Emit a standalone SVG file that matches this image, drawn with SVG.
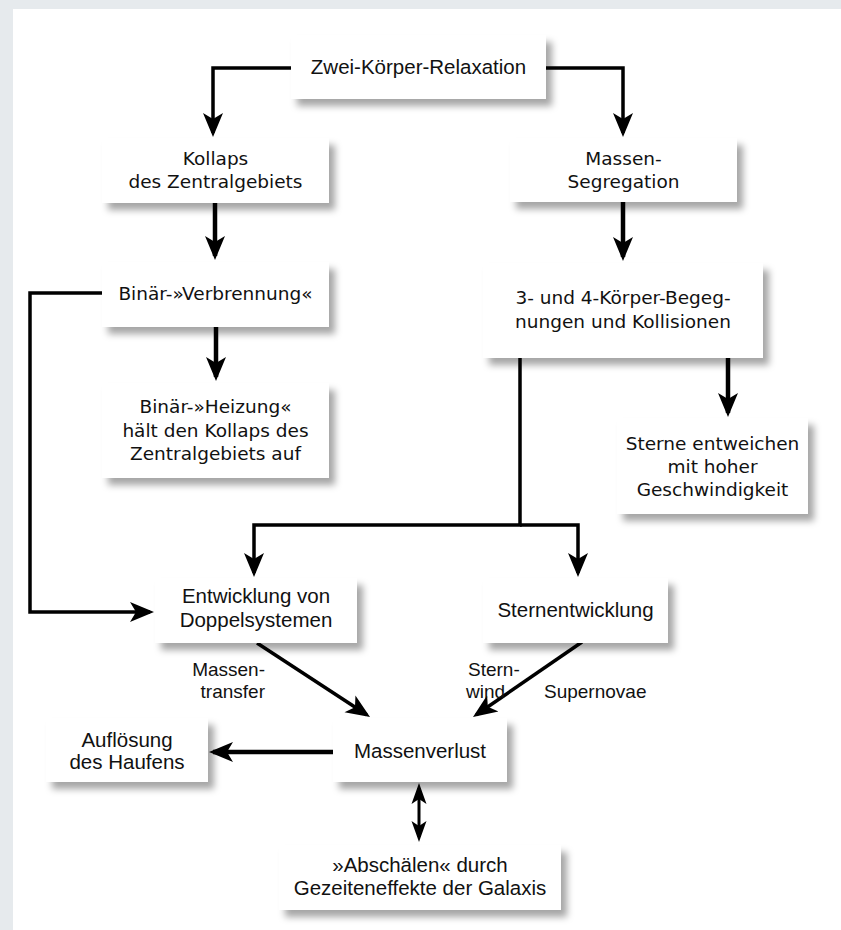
<svg xmlns="http://www.w3.org/2000/svg" width="841" height="930" viewBox="0 0 841 930">
<style>
.box{fill:#ffffff;filter:url(#sh)}
.u{font-family:"DejaVu Sans","Liberation Sans",sans-serif;font-size:18.5px;fill:#111;text-anchor:middle}
.c{font-family:"Liberation Sans",Arial,sans-serif;font-size:20.5px;fill:#111;text-anchor:middle}
.lbl{font-family:"Liberation Sans",Arial,sans-serif;font-size:19px;fill:#111}
.ln{fill:none;stroke:#000;stroke-width:3.5;marker-end:url(#ah)}
.lt{fill:none;stroke:#000;stroke-width:4.5;marker-end:url(#ah)}
</style>
<defs>
<filter id="sh" x="-10%" y="-20%" width="130%" height="150%">
<feDropShadow dx="6" dy="7" stdDeviation="3.5" flood-color="#000" flood-opacity="0.35"/>
</filter>
<marker id="ah" viewBox="0 0 26 22" markerUnits="userSpaceOnUse" markerWidth="26" markerHeight="22" refX="20" refY="11" orient="auto">
<path d="M0,1 L24,11 L0,21 L6,11 Z" fill="#000"/>
</marker>
<marker id="as" viewBox="0 0 22 16" markerUnits="userSpaceOnUse" markerWidth="22" markerHeight="16" refX="16" refY="8" orient="auto-start-reverse">
<path d="M0,0.5 L21,8 L0,15.5 L5,8 Z" fill="#000"/>
</marker>
</defs>
<rect x="0" y="0" width="841" height="930" fill="#e6eaed"/>
<rect x="13" y="9" width="828" height="921" fill="#ffffff"/>

<g id="connectors">
<path class="ln" d="M291,68 H213 V133"/>
<path class="ln" d="M546,68 H623 V133"/>
<path class="lt" d="M215,203 V256"/>
<path class="lt" d="M623,202 V257"/>
<path class="lt" d="M216,327 V377"/>
<path class="ln" d="M102,293 H30 V612 H150"/>
<path class="lt" d="M728,358 V413"/>
<path class="ln" d="M520,358 V525 H254 V573"/>
<path class="ln" d="M520,525 H578 V573"/>
<path class="ln" d="M257,643 L366.7,714.8"/>
<path class="ln" d="M582,642 L476.3,714.7"/>
<path class="lt" d="M333,752 H213"/>
<path d="M419,788 V837" fill="none" stroke="#000" stroke-width="3" marker-start="url(#as)" marker-end="url(#as)"/>
<text class="lbl" x="265" y="676" text-anchor="end">Massen-</text>
<text class="lbl" x="265" y="698" text-anchor="end">transfer</text>
<text class="lbl" x="468" y="676">Stern-</text>
<text class="lbl" x="466" y="698">wind</text>
<text class="lbl" x="544" y="698">Supernovae</text>
</g>

<g id="n1"><rect class="box" x="291" y="35" width="255" height="64"/><text class="c" x="418.5" y="74">Zwei-Körper-Relaxation</text></g>
<g id="n2"><rect class="box" x="102" y="138" width="227" height="65"/><text class="u" x="215.5" y="165">Kollaps</text><text class="u" x="215.5" y="188">des Zentralgebiets</text></g>
<g id="n3"><rect class="box" x="510" y="138" width="227" height="64"/><text class="u" x="623.5" y="165">Massen-</text><text class="u" x="623.5" y="188">Segregation</text></g>
<g id="n4"><rect class="box" x="102" y="262" width="227" height="65"/><text class="u" x="215.5" y="300">Binär-»Verbrennung«</text></g>
<g id="n5"><rect class="box" x="483" y="263" width="280" height="95"/><text class="u" x="623" y="304">3- und 4-Körper-Begeg-</text><text class="u" x="623" y="328">nungen und Kollisionen</text></g>
<g id="n6"><rect class="box" x="102" y="383" width="227" height="95"/><text class="u" x="215.5" y="413">Binär-»Heizung«</text><text class="u" x="215.5" y="437">hält den Kollaps des</text><text class="u" x="215.5" y="460">Zentralgebiets auf</text></g>
<g id="n7"><rect class="box" x="617" y="418" width="191" height="96"/><text class="u" x="712.5" y="450">Sterne entweichen</text><text class="u" x="712.5" y="473">mit hoher</text><text class="u" x="712.5" y="496">Geschwindigkeit</text></g>
<g id="n8"><rect class="box" x="155" y="578" width="202" height="65"/><text class="c" x="256" y="603">Entwicklung von</text><text class="c" x="256" y="627">Doppelsystemen</text></g>
<g id="n9"><rect class="box" x="483" y="578" width="185" height="65"/><text class="c" x="575.5" y="617">Sternentwicklung</text></g>
<g id="n10"><rect class="box" x="46" y="718" width="162" height="64"/><text class="c" x="127" y="747">Auflösung</text><text class="c" x="127" y="769">des Haufens</text></g>
<g id="n11"><rect class="box" x="333" y="718" width="174" height="64"/><text class="c" x="420" y="758">Massenverlust</text></g>
<g id="n12"><rect class="box" x="279" y="845" width="282" height="65"/><text class="c" x="420" y="872">»Abschälen« durch</text><text class="c" x="420" y="895">Gezeiteneffekte der Galaxis</text></g>
</svg>
